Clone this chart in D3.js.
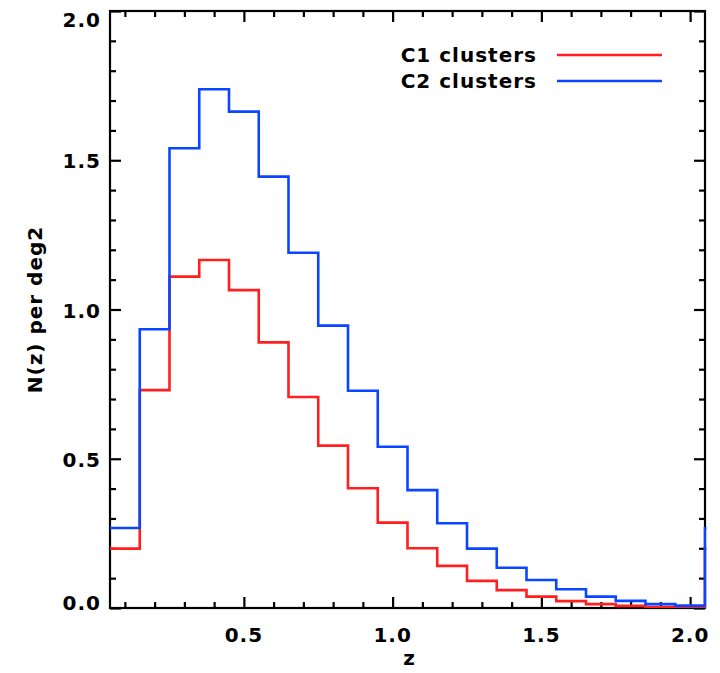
<!DOCTYPE html>
<html>
<head>
<meta charset="utf-8">
<script src="https://cdn.jsdelivr.net/npm/d3@7/dist/d3.min.js"></script>
<style>
  html, body { margin: 0; padding: 0; background: #fff; }
  svg { display: block; }
  text { font-family: "DejaVu Sans", Verdana, sans-serif; font-weight: bold; fill: #000; letter-spacing: 1px; }
</style>
</head>
<body>
<script>
// Redshift bin centres (bin width 0.1); the last entry lies past the axis and is clipped
const zBins = [0.1, 0.2, 0.3, 0.4, 0.5, 0.6, 0.7, 0.8, 0.9, 1.0,
               1.1, 1.2, 1.3, 1.4, 1.5, 1.6, 1.7, 1.8, 1.9, 2.0, 2.1];
// N(z) per deg2 for each cluster sample
const c1Counts = [0.199, 0.730, 1.110, 1.166, 1.065, 0.890, 0.707, 0.544, 0.401, 0.286,
                  0.200, 0.141, 0.091, 0.060, 0.038, 0.023, 0.013, 0.007, 0.003, 0.001, 0.199];
const c2Counts = [0.268, 0.934, 1.540, 1.738, 1.663, 1.445, 1.190, 0.946, 0.728, 0.540,
                  0.395, 0.284, 0.199, 0.135, 0.094, 0.063, 0.038, 0.024, 0.013, 0.008, 0.267];
const seriesNames = ["C1 clusters", "C2 clusters"];
const seriesColors = ["#ff1f1f", "#0a45ff"];
const xMajorTicks = [0.5, 1.0, 1.5, 2.0];
const yMajorTicks = [0.0, 0.5, 1.0, 1.5, 2.0];
const xMinorTicks = d3.range(1, 21).map(i => i / 10);
const yMinorTicks = d3.range(0, 21).map(i => i / 10);
const xTitle = "z";
const yTitle = "N(z) per deg2";

const W = 720, H = 673;
const plot = { left: 110, right: 705, top: 11, bottom: 608 };
const binWidth = 0.1;

const x = d3.scaleLinear().domain([0.05, 2.05]).range([plot.left, plot.right]);
const y = d3.scaleLinear().domain([0, 2]).range([plot.bottom, plot.top]);

const svg = d3.select("body").append("svg").attr("width", W).attr("height", H);

svg.append("defs").append("clipPath").attr("id", "plot-clip")
  .append("rect")
  .attr("x", plot.left).attr("y", plot.top)
  .attr("width", plot.right - plot.left + 1.5).attr("height", plot.bottom - plot.top);

// Axes: ticks point inward on all four sides
const axisStroke = 2.2;
function styleAxis(g) {
  g.select(".domain").remove();
  g.selectAll(".tick line").attr("stroke", "#000").attr("stroke-width", 2.2);
  g.selectAll(".tick text").remove();
}

const isMajor = (v, majors) => majors.some(m => Math.abs(m - v) < 1e-9);
const xMinorOnly = xMinorTicks.filter(v => !isMajor(v, xMajorTicks));
const yMinorOnly = yMinorTicks.filter(v => !isMajor(v, yMajorTicks));
const majorLen = 11, minorLen = 6;

svg.append("g").attr("transform", `translate(0,${plot.bottom})`)
  .call(d3.axisBottom(x).tickValues(xMinorOnly).tickSize(-minorLen)).call(styleAxis);
svg.append("g").attr("transform", `translate(0,${plot.bottom})`)
  .call(d3.axisBottom(x).tickValues(xMajorTicks).tickSize(-majorLen)).call(styleAxis);
svg.append("g").attr("transform", `translate(0,${plot.top})`)
  .call(d3.axisTop(x).tickValues(xMinorOnly).tickSize(-minorLen)).call(styleAxis);
svg.append("g").attr("transform", `translate(0,${plot.top})`)
  .call(d3.axisTop(x).tickValues(xMajorTicks).tickSize(-majorLen)).call(styleAxis);

svg.append("g").attr("transform", `translate(${plot.left},0)`)
  .call(d3.axisLeft(y).tickValues(yMinorOnly).tickSize(-minorLen)).call(styleAxis);
svg.append("g").attr("transform", `translate(${plot.left},0)`)
  .call(d3.axisLeft(y).tickValues(yMajorTicks).tickSize(-majorLen)).call(styleAxis);
svg.append("g").attr("transform", `translate(${plot.right},0)`)
  .call(d3.axisRight(y).tickValues(yMinorOnly).tickSize(-minorLen)).call(styleAxis);
svg.append("g").attr("transform", `translate(${plot.right},0)`)
  .call(d3.axisRight(y).tickValues(yMajorTicks).tickSize(-majorLen)).call(styleAxis);

// Frame
svg.append("rect")
  .attr("x", plot.left).attr("y", plot.top)
  .attr("width", plot.right - plot.left).attr("height", plot.bottom - plot.top)
  .attr("fill", "none").attr("stroke", "#000").attr("stroke-width", axisStroke);

// Histogram outlines as stepped lines across bin edges, drawn over the frame
const stepLine = d3.line()
  .x(d => x(d[0]))
  .y(d => y(d[1]))
  .curve(d3.curveStepAfter);

function stepPoints(values) {
  const pts = zBins.map((z, i) => [z - binWidth / 2, values[i]]);
  const lastZ = zBins[zBins.length - 1];
  pts.push([lastZ + binWidth / 2, values[values.length - 1]]);
  return pts;
}

const hist = svg.append("g").attr("clip-path", "url(#plot-clip)");
[c1Counts, c2Counts].forEach((vals, i) => {
  hist.append("path")
    .attr("d", stepLine(stepPoints(vals)))
    .attr("fill", "none")
    .attr("stroke", seriesColors[i])
    .attr("stroke-width", 2.6)
    .attr("stroke-linejoin", "miter");
});

// Tick labels
const labelSize = 20;
svg.append("g").selectAll("text").data(xMajorTicks).join("text")
  .attr("x", d => x(d)).attr("y", plot.bottom + 34)
  .attr("text-anchor", "middle").attr("font-size", labelSize)
  .text(d3.format(".1f"));
svg.append("g").selectAll("text").data(yMajorTicks).join("text")
  .attr("x", plot.left - 9)
  .attr("y", d => Math.min(Math.max(y(d) + 8, plot.top + 16), plot.bottom + 2))
  .attr("text-anchor", "end").attr("font-size", labelSize)
  .text(d3.format(".1f"));

// Axis titles
svg.append("text")
  .attr("x", (plot.left + plot.right) / 2 + 2).attr("y", 665)
  .attr("text-anchor", "middle").attr("font-size", labelSize)
  .text(xTitle);
svg.append("text")
  .attr("transform", `translate(42,${(plot.top + plot.bottom) / 2}) rotate(-90)`)
  .attr("text-anchor", "middle").attr("font-size", labelSize)
  .text(yTitle);

// Legend
const legend = svg.append("g");
seriesNames.forEach((name, i) => {
  const rowY = 55 + i * 26;
  legend.append("text")
    .attr("x", 537).attr("y", rowY + 7)
    .attr("text-anchor", "end").attr("font-size", labelSize)
    .text(name);
  legend.append("line")
    .attr("x1", 557).attr("x2", 662)
    .attr("y1", rowY).attr("y2", rowY)
    .attr("stroke", seriesColors[i]).attr("stroke-width", 2.6);
});
</script>
</body>
</html>
